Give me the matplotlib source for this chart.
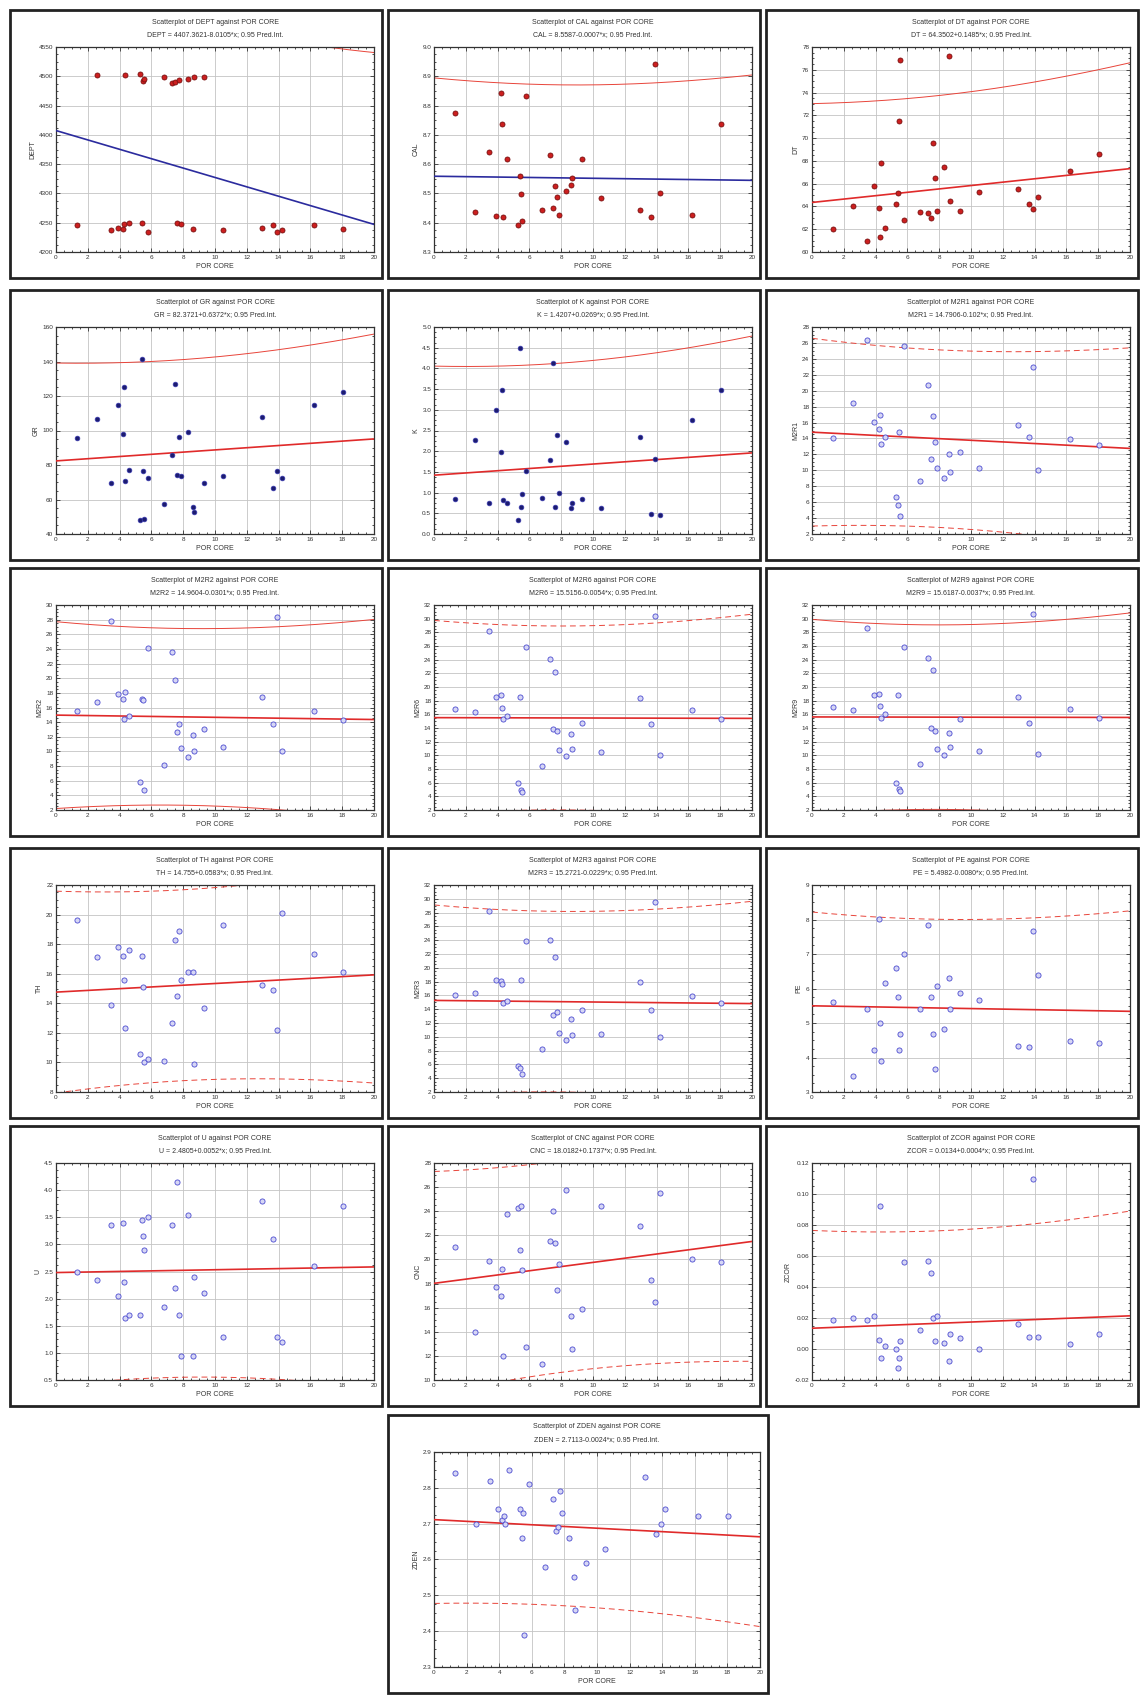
import matplotlib.pyplot as plt
import numpy as np
from matplotlib.patches import Rectangle
from matplotlib.ticker import AutoMinorLocator, FormatStrFormatter, MultipleLocator

plt.rcParams["font.family"] = ["Liberation Sans", "DejaVu Sans"]

W, H = 1141, 1695

# core porosity of the 30 samples (x of every panel)
POR_CORE = [1.3, 2.6, 3.45, 3.9, 4.2, 4.3, 4.35, 4.6, 5.3, 5.4, 5.45, 5.55, 5.8, 6.8, 7.3,
            7.5, 7.6, 7.75, 7.85, 8.3, 8.6, 8.65, 9.3, 10.5, 12.95, 13.65, 13.9, 14.2, 16.2, 18.05]

DEPT = [4246, 4502, 4238, 4241, 4239, 4247, 4502, 4250, 4504, 4249, 4492, 4495, 4234, 4499, 4489,
        4490, 4249, 4493, 4247, 4496, 4240, 4498, 4498, 4238, 4241, 4246, 4235, 4238, 4246, 4240]
CAL = [8.774, 8.435, 8.64, 8.424, 8.842, 8.738, 8.418, 8.616, 8.392, 8.561, 8.499, 8.407, 8.834, 8.444, 8.63,
       8.449, 8.524, 8.488, 8.427, 8.51, 8.528, 8.553, 8.616, 8.484, 8.444, 8.418, 8.943, 8.501, 8.427, 8.738]
DT = [62.0, 64.0, 61.0, 65.8, 63.9, 61.3, 67.8, 62.1, 64.2, 65.2, 71.5, 76.9, 62.8, 63.5, 63.4,
      63.0, 69.6, 66.5, 63.6, 67.5, 77.2, 64.5, 63.6, 65.3, 65.5, 64.2, 63.8, 64.8, 67.1, 68.6]
GR = [95.5, 106.8, 69.8, 114.9, 97.9, 125.2, 71.0, 77.0, 48.1, 141.2, 76.6, 48.9, 72.3, 57.4, 85.7,
      126.9, 74.4, 96.3, 73.9, 99.4, 55.7, 53.0, 69.6, 73.5, 108.1, 66.7, 76.6, 72.3, 114.9, 122.3]
K = [0.84, 2.26, 0.75, 3.0, 1.97, 3.47, 0.81, 0.75, 0.35, 4.5, 0.66, 0.97, 1.52, 0.88, 1.78,
     4.14, 0.65, 2.4, 1.0, 2.22, 0.62, 0.75, 0.84, 0.62, 2.35, 0.49, 1.82, 0.45, 2.76, 3.47]
M2R1 = [14.0, 18.5, 26.4, 16.1, 15.2, 16.9, 13.25, 14.15, 6.6, 5.6, 14.76, 4.3, 25.6, 8.7, 20.7,
        11.4, 16.8, 13.5, 10.3, 9.0, 12.0, 9.85, 12.3, 10.3, 15.7, 14.2, 23.0, 10.0, 13.9, 13.2]
M2R2 = [15.57, 16.74, 27.8, 17.8, 17.2, 14.4, 18.1, 14.8, 5.83, 17.1, 17.0, 4.74, 24.1, 8.2, 23.6,
        19.8, 12.6, 13.7, 10.5, 9.3, 12.2, 10.0, 13.1, 10.6, 17.4, 13.8, 28.3, 10.1, 15.5, 14.3]
M2R6 = [16.85, 16.4, 28.2, 18.6, 18.86, 17.0, 15.3, 15.8, 5.93, 18.6, 4.9, 4.67, 25.8, 8.46, 24.15,
        13.8, 22.2, 13.5, 10.75, 9.9, 13.1, 10.9, 14.8, 10.43, 18.4, 14.55, 30.4, 10.05, 16.6, 15.3]
M2R9 = [17.07, 16.57, 28.67, 18.8, 19.0, 17.2, 15.4, 16.0, 6.0, 18.8, 5.1, 4.83, 25.8, 8.76, 24.3,
        13.96, 22.46, 13.6, 10.95, 10.04, 13.28, 11.27, 15.38, 10.68, 18.58, 14.8, 30.7, 10.13, 16.84, 15.5]
TH = [19.6, 17.1, 13.9, 17.8, 17.2, 15.6, 12.3, 17.6, 10.6, 17.2, 15.1, 10.0, 10.2, 10.1, 12.7,
      18.3, 14.5, 18.9, 15.6, 16.1, 16.1, 9.87, 13.7, 19.3, 15.24, 14.9, 12.16, 20.1, 17.3, 16.1]
M2R3 = [16.1, 16.3, 28.3, 18.25, 18.1, 17.65, 14.83, 15.16, 5.84, 5.47, 18.25, 4.67, 23.87, 8.18, 24.1,
        13.15, 21.5, 13.57, 10.5, 9.54, 12.63, 10.2, 13.85, 10.38, 18.0, 13.9, 29.6, 9.9, 15.9, 14.83]
PE = [5.61, 3.47, 5.42, 4.22, 8.01, 5.01, 3.91, 6.17, 6.58, 5.74, 4.22, 4.67, 6.99, 5.42, 7.85,
      5.75, 4.67, 3.67, 6.07, 4.82, 6.29, 5.42, 5.88, 5.66, 4.33, 4.3, 7.68, 6.4, 4.48, 4.43]
U = [2.5, 2.35, 3.35, 2.05, 3.4, 2.3, 1.65, 1.7, 1.7, 3.45, 3.15, 2.9, 3.5, 1.85, 3.35,
     2.2, 4.15, 1.7, 0.95, 3.55, 0.95, 2.4, 2.1, 1.3, 3.8, 3.1, 1.3, 1.2, 2.6, 3.7]
CNC = [21.0, 14.0, 19.9, 17.7, 17.0, 19.2, 12.0, 23.8, 24.3, 20.8, 24.4, 19.1, 12.7, 11.3, 21.5,
       24.0, 21.4, 17.5, 19.6, 25.8, 15.3, 12.6, 15.9, 24.4, 22.8, 18.3, 16.5, 25.5, 20.0, 19.8]
ZCOR = [0.019, 0.020, 0.019, 0.021, 0.006, 0.092, -0.006, 0.002, 0.000, -0.012, -0.006, 0.005, 0.056, 0.012, 0.057,
        0.049, 0.020, 0.005, 0.021, 0.004, -0.008, 0.010, 0.007, 0.000, 0.016, 0.008, 0.110, 0.008, 0.003, 0.010]
ZDEN = [2.84, 2.70, 2.82, 2.74, 2.71, 2.72, 2.70, 2.85, 2.74, 2.66, 2.73, 2.39, 2.81, 2.58, 2.77,
        2.68, 2.69, 2.79, 2.73, 2.66, 2.55, 2.46, 2.59, 2.63, 2.83, 2.67, 2.70, 2.74, 2.72, 2.72]

# regression coefficients printed in the titles (intercept, slope)
COEF = {
    "DEPT": ("4407.3621", "-8.0105"), "CAL": ("8.5587", "-0.0007"), "DT": ("64.3502", "0.1485"),
    "GR": ("82.3721", "0.6372"), "K": ("1.4207", "0.0269"), "M2R1": ("14.7906", "-0.102"),
    "M2R2": ("14.9604", "-0.0301"), "M2R6": ("15.5156", "-0.0054"), "M2R9": ("15.6187", "-0.0037"),
    "TH": ("14.755", "0.0583"), "M2R3": ("15.2721", "-0.0229"), "PE": ("5.4982", "-0.0080"),
    "U": ("2.4805", "0.0052"), "CNC": ("18.0182", "0.1737"), "ZCOR": ("0.0134", "0.0004"),
    "ZDEN": ("2.7113", "-0.0024"),
}

# y axis: (min, max, step, tick format)
YAXIS = {
    "DEPT": (4200, 4550, 50, "%d"), "CAL": (8.3, 9.0, 0.1, "%.1f"), "DT": (60, 78, 2, "%d"),
    "GR": (40, 160, 20, "%d"), "K": (0, 5, 0.5, "%.1f"), "M2R1": (2, 28, 2, "%d"),
    "M2R2": (2, 30, 2, "%d"), "M2R6": (2, 32, 2, "%d"), "M2R9": (2, 32, 2, "%d"),
    "TH": (8, 22, 2, "%d"), "M2R3": (2, 32, 2, "%d"), "PE": (3, 9, 1, "%d"),
    "U": (0.5, 4.5, 0.5, "%.1f"), "CNC": (10, 28, 2, "%d"), "ZCOR": (-0.02, 0.12, 0.02, "%.2f"),
    "ZDEN": (2.3, 2.9, 0.1, "%.1f"),
}

LOGS = [("DEPT", DEPT), ("CAL", CAL), ("DT", DT), ("GR", GR), ("K", K), ("M2R1", M2R1),
        ("M2R2", M2R2), ("M2R6", M2R6), ("M2R9", M2R9), ("TH", TH), ("M2R3", M2R3), ("PE", PE),
        ("U", U), ("CNC", CNC), ("ZCOR", ZCOR), ("ZDEN", ZDEN)]

# panel frames in pixels: x, y (from top), width, height
cols = [(10, 372), (388, 372), (766, 372)]
rows = [(10, 268), (290, 270), (568, 268), (848, 270), (1126, 280), (1415, 278)]
frames = [(c[0], r[0], c[1], r[1]) for r in rows[:5] for c in cols][:15]
frames.append((388, rows[5][0], 380, rows[5][1]))

red_pts = {"DEPT", "CAL", "DT"}
dark_pts = {"GR", "K"}
blue_fit = {"DEPT", "CAL"}
dashed_pi = {"M2R1", "M2R6", "TH", "M2R3", "PE", "U", "CNC", "ZCOR", "ZDEN"}

fig = plt.figure(figsize=(W / 100, H / 100), dpi=100)
x = np.array(POR_CORE)
n = len(x)
xs = np.linspace(0, 20, 300)
t975 = 2.048  # Student t, 28 df

for (name, vals), (fx, fy, fw, fh) in zip(LOGS, frames):
    y = np.array(vals)
    a, b = (float(v) for v in COEF[name])
    ymin, ymax, ystep, yfmt = YAXIS[name]

    fig.patches.append(Rectangle((fx / W, 1 - (fy + fh) / H), fw / W, fh / H,
                                 transform=fig.transFigure, fill=False,
                                 edgecolor="#222222", linewidth=2.0))
    left, right, top, bottom = 46, 8, 37, 26
    ax = fig.add_axes([(fx + left) / W, 1 - (fy + fh - bottom) / H,
                       (fw - left - right) / W, (fh - top - bottom) / H])

    # fitted line and 0.95 prediction interval
    s = np.sqrt(np.sum((y - (a + b * x)) ** 2) / (n - 2))
    half = t975 * s * np.sqrt(1 + 1 / n + (xs - x.mean()) ** 2 / np.sum((x - x.mean()) ** 2))
    fit = a + b * xs
    pi_ls = (0, (6, 4)) if name in dashed_pi else "-"
    ax.plot(xs, fit + half, color="#e8443a", lw=0.7, ls=pi_ls, zorder=2)
    ax.plot(xs, fit - half, color="#e8443a", lw=0.7, ls=pi_ls, zorder=2)
    ax.plot(xs, fit, color="#2b2b9e" if name in blue_fit else "#e02a2a", lw=1.2, zorder=3)

    if name in red_pts:
        ax.plot(x, y, "o", ms=3.6, mfc="#cc1f1f", mec="#7a1010", mew=0.6, zorder=4)
    elif name in dark_pts:
        ax.plot(x, y, "o", ms=3.4, mfc="#1c1c70", mec="#3a3ab0", mew=0.5, zorder=4)
    else:
        ax.plot(x, y, "o", ms=3.7, mfc="#d6d6f5", mec="#4b4bd0", mew=0.6, zorder=4)

    ax.set_xlim(0, 20)
    ax.set_ylim(ymin, ymax)
    ax.xaxis.set_major_locator(MultipleLocator(2))
    ax.yaxis.set_major_locator(MultipleLocator(ystep))
    ax.yaxis.set_major_formatter(FormatStrFormatter(yfmt))
    ax.xaxis.set_minor_locator(AutoMinorLocator(4))
    ax.yaxis.set_minor_locator(AutoMinorLocator(4))
    ax.grid(True, which="major", color="#c4c4c4", lw=0.6)
    ax.tick_params(which="both", direction="in", top=True, right=True,
                   labelsize=4.6, pad=2, width=0.6, colors="#333333")
    ax.tick_params(which="major", length=3)
    ax.tick_params(which="minor", length=1.6)
    for sp in ax.spines.values():
        sp.set_color("#333333")
        sp.set_linewidth(0.9)
    ax.set_xlabel("POR CORE", fontsize=5, labelpad=2, color="#333333")
    ax.set_ylabel(name, fontsize=5, labelpad=2, color="#333333")

    cx = (fx + left + (fw - left - right) / 2) / W
    sign = "" if COEF[name][1].startswith("-") else "+"
    fig.text(cx, 1 - (fy + 12) / H, f"Scatterplot of {name} against POR CORE",
             ha="center", va="center", fontsize=5, color="#333333")
    fig.text(cx, 1 - (fy + 25) / H,
             f"{name} = {COEF[name][0]}{sign}{COEF[name][1]}*x; 0.95 Pred.Int.",
             ha="center", va="center", fontsize=5, color="#333333")

fig.savefig("out.png", dpi=100, facecolor="white")
